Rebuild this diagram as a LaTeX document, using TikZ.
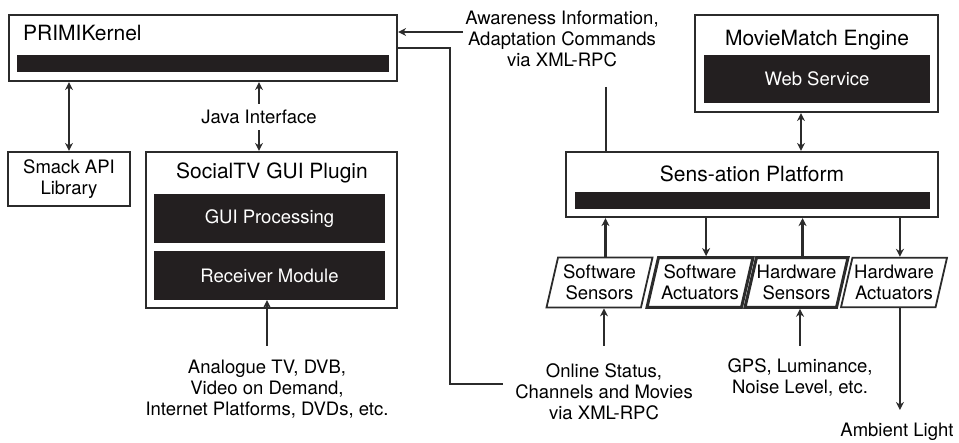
\documentclass[tikz,border=0pt]{standalone}
\usepackage{fontspec}
\setmainfont{TeX Gyre Heros}
\usetikzlibrary{arrows.meta,shapes.geometric}

\definecolor{linegray}{HTML}{2B2B2B}
\definecolor{barblack}{HTML}{231F20}
\newcommand{\titlefnt}{\fontsize{21}{24}\selectfont}
\newcommand{\textfnt}{\fontsize{18.5}{21}\selectfont}

\begin{document}
\begin{tikzpicture}[x=1pt,y=-1pt,
		box/.style={draw=linegray,line width=2.2pt,fill=white,inner sep=0pt},
		bar/.style={fill=barblack,text=white,inner sep=0pt,font=\textfnt},
		para/.style={draw=linegray,line width=1.8pt,trapezium,trapezium left angle=77,trapezium right angle=103,
			trapezium stretches body,minimum width=106pt,inner xsep=0pt,inner ysep=7.4pt,align=center,font=\textfnt},
		note/.style={align=center,font=\textfnt,inner sep=0pt},
		arr/.style={color=linegray,line width=2.2pt,-{Stealth[length=8pt,width=8pt]}},
		dbl/.style={color=linegray,line width=2.2pt,{Stealth[length=8pt,width=8pt]}-{Stealth[length=8pt,width=8pt]}},
		wire/.style={color=linegray,line width=2.2pt}]
			\useasboundingbox (0,0) rectangle (959,443);
			
			\node[box,minimum width=388pt,minimum height=66pt] 	(kernel) at (203, 48) 	{};
			\node[font=\titlefnt,anchor=west,inner sep=0pt] 	(kerneltitle) at (23, 33) 	{PRIMIKernel};
			\node[bar,minimum width=372pt,minimum height=17pt] 	(kernelbar) at (203, 63.5) 	{};
			
			\node[box,minimum width=122pt,minimum height=54pt,align=center,font=\textfnt] 	(smack) at (69, 179) 	{Smack API\\Library};
			
			\node[box,minimum width=251pt,minimum height=156pt] 	(plugin) at (271.5, 230) 	{};
			\node[font=\titlefnt] 	(plugintitle) at (272, 173) 	{SocialTV GUI Plugin};
			\node[bar,minimum width=231pt,minimum height=49pt] 	(gui) at (269.5, 218.5) 	{GUI Processing};
			\node[bar,minimum width=231pt,minimum height=49pt] 	(receiver) at (269.5, 275.5) 	{Receiver Module};
			
			\node[box,minimum width=243pt,minimum height=97pt] 	(engine) at (816.5, 63.5) 	{};
			\node[font=\titlefnt] 	(enginetitle) at (817, 40) 	{MovieMatch Engine};
			\node[bar,minimum width=226pt,minimum height=48pt] 	(webservice) at (817, 79) 	{Web Service};
			
			\node[box,minimum width=372pt,minimum height=65pt] 	(plat) at (752, 184.5) 	{};
			\node[font=\titlefnt] 	(plattitle) at (752, 174) 	{Sens-ation Platform};
			\node[bar,minimum width=355pt,minimum height=17pt] 	(platbar) at (752.5, 200.5) 	{};
			
			\node[para] 	(swsens) at (599.5, 282.5) 	{Software\\Sensors};
			\node[para,line width=3pt] 	(swact) at (700, 282.5) 	{Software\\Actuators};
			\node[para,line width=3pt,minimum width=103pt] 	(hwsens) at (796.5, 282.5) 	{Hardware\\Sensors};
			\node[para] 	(hwact) at (894, 282.5) 	{Hardware\\Actuators};
			
			\node[note,inner ysep=6pt] 	(java) at (259, 117) 	{Java Interface};
			\node[note] 	(aware) at (562, 39) 	{Awareness Information,\\Adaptation Commands\\via XML-RPC};
			\node[note] 	(analog) at (267, 389.5) 	{Analogue TV, DVB,\\Video on Demand,\\Internet Platforms, DVDs, etc.};
			\node[note] 	(online) at (604, 392) 	{Online Status,\\Channels and Movies\\via XML-RPC};
			\node[note] 	(gps) at (800, 377.5) 	{GPS, Luminance,\\Noise Level, etc.};
			\node[note] 	(ambient) at (897, 432) 	{Ambient Light};
			
			\coordinate (awhead) at (463, 32);
			\coordinate (awtail) at (606, 87);
			\coordinate (olend) at (503, 384);
			\coordinate (tails) at (0, 346);
			\coordinate (lightend) at (0, 410);
			
			\path [dbl] (smack.north) edge (smack.north |- kernel.south);
			\path [arr] (java) edge (java |- kernel.south);
			\path [arr] (java) edge (java |- plugin.north);
			\path [arr] (tails -| analog) edge (analog |- receiver.south);
			
			\path [arr] (awhead) edge (awhead -| kernel.east);
			\draw [wire] (kernel.east) -- ++(52, 0) |- (olend);
			\draw [wire] (awtail) -- (awtail |- plat.north);
			
			\path [dbl] ([xshift=-15.5pt]engine.south) edge ([xshift=-15.5pt]engine.south |- plat.north);
			
			\path [arr] (swsens.top side) edge (swsens.top side |- plat.south);
			\path [arr] (swact.top side |- plat.south) edge (swact.top side);
			\path [arr] (hwsens.top side) edge (hwsens.top side |- plat.south);
			\path [arr] (hwact.top side |- plat.south) edge (hwact.top side);
			
			\path [arr] (tails -| online) edge (online |- swsens.south);
			\path [arr] (tails -| gps) edge (gps |- hwsens.south);
			\path [arr] (hwact.top side |- hwact.south) edge (hwact.top side |- lightend);
			\end{tikzpicture}
\end{document}
